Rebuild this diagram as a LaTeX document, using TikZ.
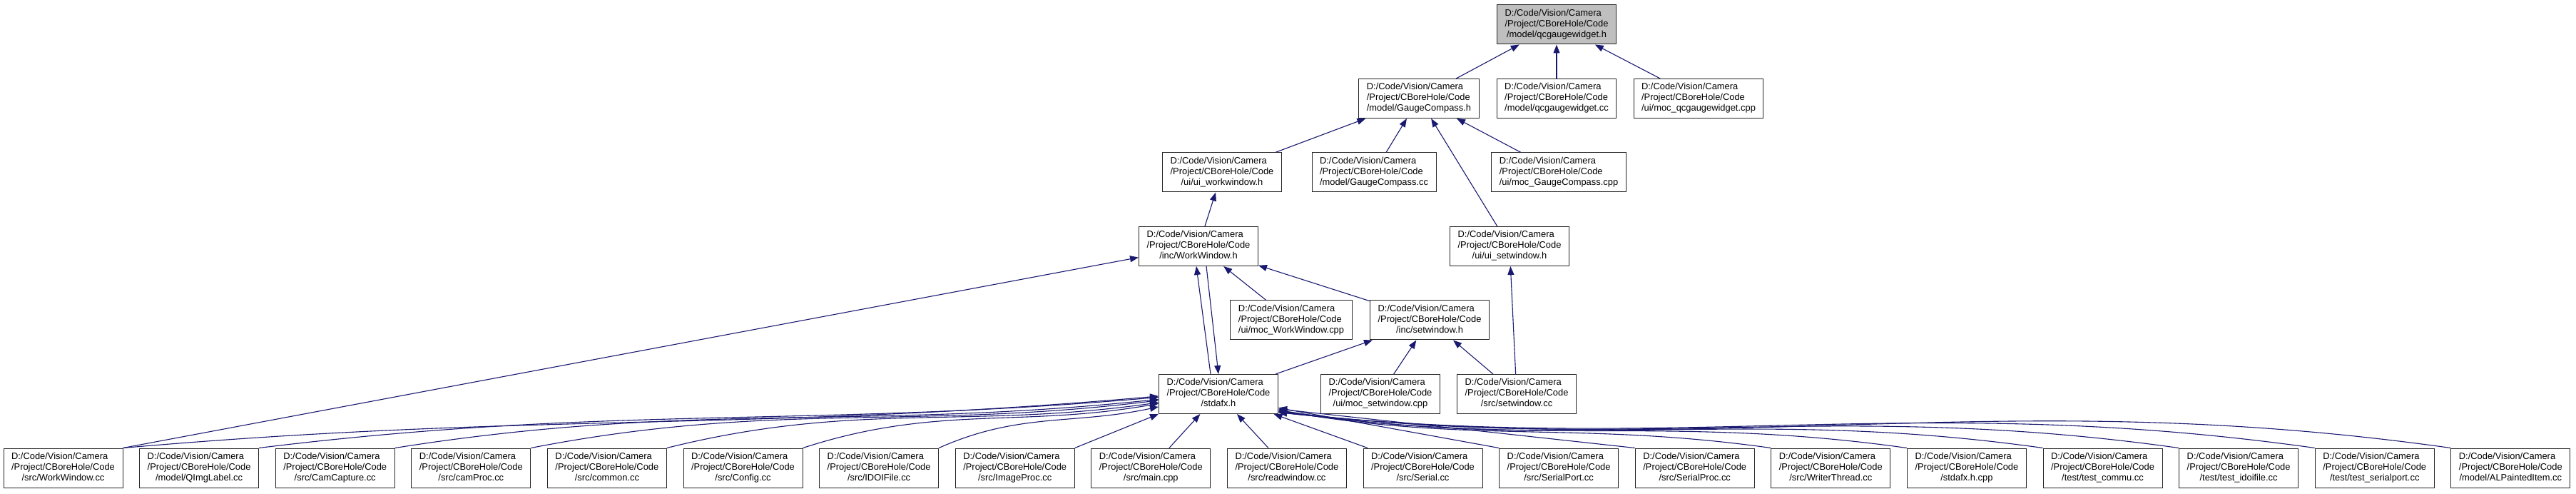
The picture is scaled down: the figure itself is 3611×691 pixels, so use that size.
\documentclass[tikz,border=0pt]{standalone}
\usepackage{fontspec}
\setmainfont{Liberation Sans}
\usetikzlibrary{arrows.meta,positioning}
\definecolor{edgeblue}{RGB}{25,25,112}
\newcommand{\incpath}[1]{\begin{tabular}{@{}l@{}}D:/Code/Vision/Camera\\/Project/CBoreHole/Code\\\multicolumn{1}{@{}c@{}}{/#1}\end{tabular}}

\begin{document}
\begin{tikzpicture}[
  x=1pt,y=1pt,
  node distance=22.6pt,
  file/.style={draw=black!85,line width=1pt,fill=white,minimum width=167pt,minimum height=55pt,
    inner xsep=11pt,inner ysep=2pt,font=\fontsize{12.9}{15}\selectfont},
  dep/.style={draw=edgeblue,line width=1.1pt,-{Triangle[length=12pt,width=9pt]}}
]
  \useasboundingbox (0,0) rectangle (3611,691);

  \node[file,fill=black!25] (qcgh) at (2182,656.5) {\incpath{model/qcgaugewidget.h}};
  \node[file] (gcomph) at (1989,553) {\incpath{model/GaugeCompass.h}};
  \node[file] (qcgcc) at (2182,553) {\incpath{model/qcgaugewidget.cc}};
  \node[file] (mocqcg) at (2381,553) {\incpath{ui/moc\_qcgaugewidget.cpp}};
  \node[file] (uiwork) at (1713,449.5) {\incpath{ui/ui\_workwindow.h}};
  \node[file] (gcompcc) at (1926,449.5) {\incpath{model/GaugeCompass.cc}};
  \node[file] (mocgcomp) at (2185,449.5) {\incpath{ui/moc\_GaugeCompass.cpp}};
  \node[file] (workh) at (1680,346) {\incpath{inc/WorkWindow.h}};
  \node[file] (uiset) at (2116,346) {\incpath{ui/ui\_setwindow.h}};
  \node[file] (mocwork) at (1810,242.5) {\incpath{ui/moc\_WorkWindow.cpp}};
  \node[file] (seth) at (2004,242.5) {\incpath{inc/setwindow.h}};
  \node[file] (stdafx) at (1708,139) {\incpath{stdafx.h}};
  \node[file] (mocset) at (1935,139) {\incpath{ui/moc\_setwindow.cpp}};
  \node[file] (setcc) at (2126,139) {\incpath{src/setwindow.cc}};

  \node[file] (workcc) at (88.5,35.5) {\incpath{src/WorkWindow.cc}};
  \node[file,right=of workcc] (qimg) {\incpath{model/QImgLabel.cc}};
  \node[file,right=of qimg] (camcap) {\incpath{src/CamCapture.cc}};
  \node[file,right=of camcap] (camproc) {\incpath{src/camProc.cc}};
  \node[file,right=of camproc] (common) {\incpath{src/common.cc}};
  \node[file,right=of common] (config) {\incpath{src/Config.cc}};
  \node[file,right=of config] (idoi) {\incpath{src/IDOIFile.cc}};
  \node[file,right=of idoi] (imgproc) {\incpath{src/ImageProc.cc}};
  \node[file,right=of imgproc] (maincpp) {\incpath{src/main.cpp}};
  \node[file,right=of maincpp] (readwin) {\incpath{src/readwindow.cc}};
  \node[file,right=of readwin] (serial) {\incpath{src/Serial.cc}};
  \node[file,right=of serial] (serport) {\incpath{src/SerialPort.cc}};
  \node[file,right=of serport] (serproc) {\incpath{src/SerialProc.cc}};
  \node[file,right=of serproc] (writer) {\incpath{src/WriterThread.cc}};
  \node[file,right=of writer] (stdcpp) {\incpath{stdafx.h.cpp}};
  \node[file,right=of stdcpp] (tcommu) {\incpath{test/test\_commu.cc}};
  \node[file,right=of tcommu] (tidoi) {\incpath{test/test\_idoifile.cc}};
  \node[file,right=of tidoi] (tserial) {\incpath{test/test\_serialport.cc}};
  \node[file,right=of tserial] (alpaint) {\incpath{model/ALPaintedItem.cc}};

  \draw[dep] (gcomph) -- (qcgh);
  \draw[dep] (qcgcc) -- (qcgh);
  \draw[dep] (mocqcg) -- (qcgh);
  \draw[dep] (uiwork) -- (gcomph);
  \draw[dep] (gcompcc) -- (gcomph);
  \draw[dep] (mocgcomp) -- (gcomph);
  \draw[dep] (uiset) -- (gcomph);
  \draw[dep] (workh) -- (uiwork);
  \draw[dep] (mocwork) -- (workh);
  \draw[dep] (seth) -- (workh);
  \draw[dep] ([xshift=-11pt]stdafx.north) -- ([xshift=-3pt]workh.south);
  \draw[dep] ([xshift=11pt]workh.south) -- (stdafx.north);
  \draw[dep] (workcc.north east) -- (workh);
  \draw[dep] (stdafx) -- (seth);
  \draw[dep] (mocset) -- (seth);
  \draw[dep] (setcc) -- (seth);
  \draw[dep] (setcc) -- (uiset);

  \draw[dep] (workcc.north east) .. controls +(5:570) and +(185:570) .. (stdafx.182);
  \draw[dep] (qimg.north east) .. controls +(7:495) and +(185:495) .. (stdafx.183);
  \draw[dep] (camcap.north east) .. controls +(9:420) and +(186:420) .. (stdafx.185);
  \draw[dep] (camproc.north east) .. controls +(11:346) and +(187:346) .. (stdafx.186);
  \draw[dep] (common.north east) .. controls +(14:272) and +(188:272) .. (stdafx.188);
  \draw[dep] (config.north east) .. controls +(18:197) and +(190:197) .. (stdafx.189);
  \draw[dep] (idoi.north east) .. controls +(24:123) and +(192:123) .. (stdafx.192);
  \draw[dep] (imgproc.north east) -- (stdafx.south west);
  \draw[dep] (maincpp) -- (stdafx);
  \draw[dep] (readwin) -- (stdafx);
  \draw[dep] (serial) -- (stdafx);
  \draw[dep] (serport.north west) -- (stdafx.-13);
  \draw[dep] (serproc.north west) -- (stdafx.-14);
  \draw[dep] (writer.north west) .. controls +(172:272) and +(-10:272) .. (stdafx.-15);
  \draw[dep] (stdcpp.north west) .. controls +(172:346) and +(-9:346) .. (stdafx.-15);
  \draw[dep] (tcommu.north west) .. controls +(172:420) and +(-8:420) .. (stdafx.-16);
  \draw[dep] (tidoi.north west) .. controls +(172:495) and +(-7:495) .. (stdafx.-16);
  \draw[dep] (tserial.north west) .. controls +(172:570) and +(-6:570) .. (stdafx.-17);
  \draw[dep] (alpaint.north west) .. controls +(172:644) and +(-6:644) .. (stdafx.-17);
\end{tikzpicture}
\end{document}
